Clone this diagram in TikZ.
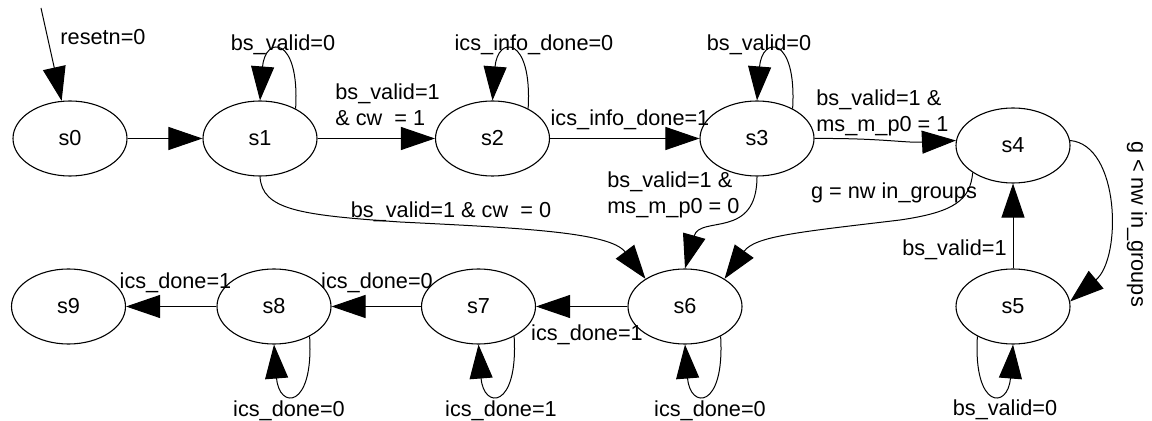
\documentclass[tikz,border=0pt]{standalone}
\usepackage{fontspec}
\setmainfont{Liberation Sans}
\usetikzlibrary{shapes.geometric,arrows.meta,calc}
\begin{document}
\begin{tikzpicture}[x=0.5bp,y=-0.5bp,
  every node/.style={font=\fontsize{10.85bp}{13bp}\selectfont, inner sep=0pt},
  state/.style={ellipse,draw,line width=0.55bp,minimum width=57bp,minimum height=37.5bp},
  conn/.style={draw,line width=0.5bp,-{Triangle[length=17bp,width=11.5bp]}},
  lbl/.style={align=left}
]
\useasboundingbox (0,0) rectangle (1152,421);

% states
\node[state] (s0) at (70,138.5) {s0};
\node[state] (s1) at (260,138.5) {s1};
\node[state] (s2) at (492.5,138.5) {s2};
\node[state] (s3) at (757,138.5) {s3};
\node[state] (s4) at (1013,145.5) {s4};
\node[state] (s5) at (1013,306.5) {s5};
\node[state] (s6) at (685,306.5) {s6};
\node[state] (s7) at (478.5,306.5) {s7};
\node[state] (s8) at (274,306.5) {s8};
\node[state] (s9) at (68.5,306.5) {s9};

% transition labels
\node (lreset) at (103,37) {resetn=0};
\node (l11) at (283,45) {bs\_valid=0};
\node[lbl,anchor=west] (l12) at (335,105) {bs\_valid=1\\\& cw\ \ = 1};
\node (l22) at (534,45) {ics\_info\_done=0};
\node (l23) at (630,120) {ics\_info\_done=1};
\node (l33) at (759,45) {bs\_valid=0};
\node[lbl,anchor=west] (l34) at (816,113) {bs\_valid=1 \&\\ms\_m\_p0 = 1};
\node[lbl,anchor=west] (l36) at (607,195) {bs\_valid=1 \&\\ms\_m\_p0 = 0};
\node (l16) at (451,212) {bs\_valid=1 \& cw\ \ = 0};
\node (l46) at (894,193) {g = nw in\_groups};
\node[anchor=east] (l54) at (1007,250) {bs\_valid=1};
\node[rotate=-90] (l45) at (1137,224) {g < nw in\_groups};
\node (l55) at (1005,410) {bs\_valid=0};
\node (l67) at (587,335) {ics\_done=1};
\node (l66) at (710,411) {ics\_done=0};
\node (l77) at (501,411) {ics\_done=1};
\node (l78) at (377,283) {ics\_done=0};
\node (l88) at (289,411) {ics\_done=0};
\node (l89) at (175.5,283) {ics\_done=1};

% reset entry
\coordinate (init) at (41,8);
\draw[conn] (init) -- (s0);

% upper row
\draw[conn] (s0) -- (s1);
\draw[conn] (s1) -- (s2);
\draw[conn] (s2) -- (s3);
\draw[conn] (s3.east) .. controls (880,138) and (905,143) .. (s4.175);

% self loops above
\draw[conn] (s1.40) .. controls ($(s1)+(40,-103)$) and ($(s1)+(5,-103)$) .. (s1.north);
\draw[conn] (s2.40) .. controls ($(s2)+(40,-103)$) and ($(s2)+(5,-103)$) .. (s2.north);
\draw[conn] (s3.40) .. controls ($(s3)+(40,-103)$) and ($(s3)+(5,-103)$) .. (s3.north);

% transitions into s6
\draw[conn] (s1.south) .. controls (262,210) and (300,215) .. (400,222)
  .. controls (520,228) and (610,232) .. (s6.145);
\draw[conn] (s3.south) .. controls (757,240) and (700,215) .. (s6.north);
\draw[conn] (s4.214) .. controls (970,200) and (955,212) .. (900,220)
  .. controls (800,232) and (755,236) .. (s6.35);

% s4 / s5
\draw[conn] (s4.5) .. controls (1120,145) and (1122,258) .. (s5.5);
\draw[conn] (s5) -- (s4);
\draw[conn] (s5.220) .. controls ($(s5)+(-40,103)$) and ($(s5)+(-5,103)$) .. (s5.south);

% lower row
\draw[conn] (s6) -- (s7);
\draw[conn] (s7) -- (s8);
\draw[conn] (s8) -- (s9);

% self loops below
\draw[conn] (s6.-40) .. controls ($(s6)+(40,103)$) and ($(s6)+(5,103)$) .. (s6.south);
\draw[conn] (s7.-40) .. controls ($(s7)+(40,103)$) and ($(s7)+(5,103)$) .. (s7.south);
\draw[conn] (s8.-40) .. controls ($(s8)+(40,103)$) and ($(s8)+(5,103)$) .. (s8.south);
\end{tikzpicture}
\end{document}
